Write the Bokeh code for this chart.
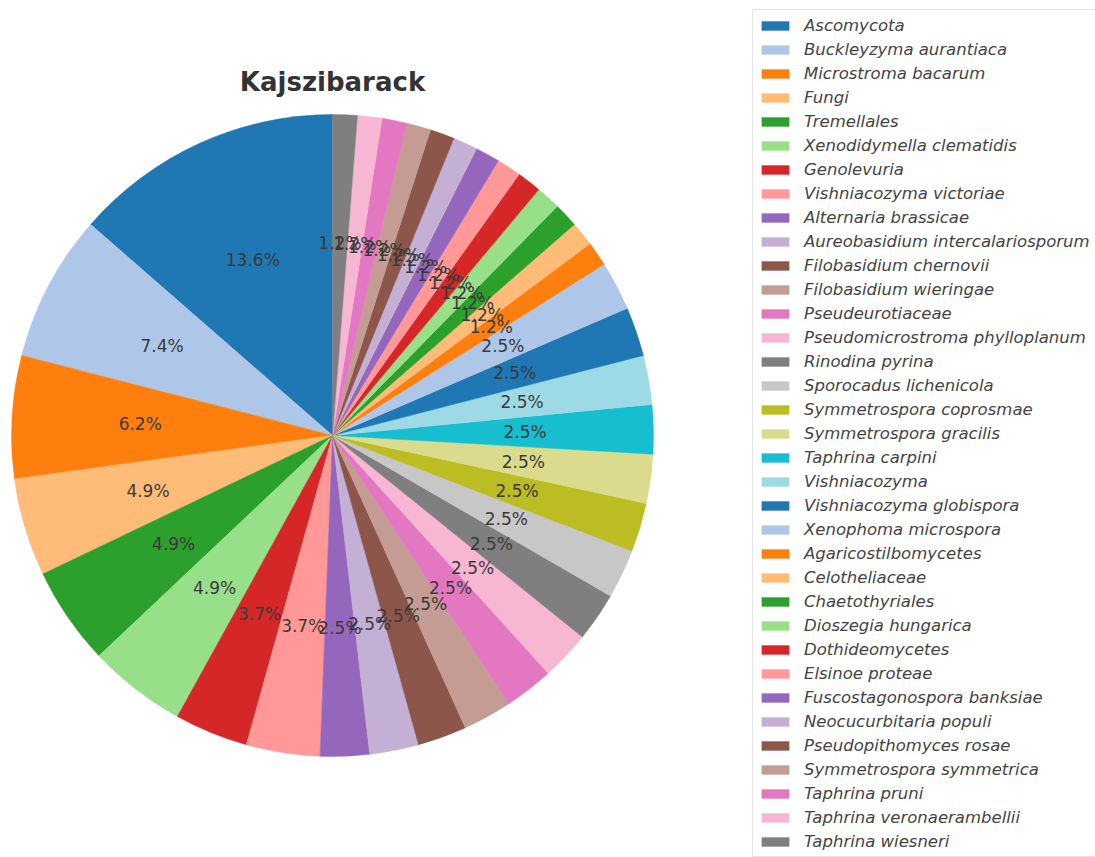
import numpy as np
from bokeh.plotting import figure
from bokeh.models import ColumnDataSource, Range1d, Legend, LegendItem
from bokeh.core.properties import value
from bokeh.embed import file_html
from bokeh.resources import INLINE

title_text = "Kajszibarack"
names = [
    "Ascomycota", "Buckleyzyma aurantiaca", "Microstroma bacarum", "Fungi",
    "Tremellales", "Xenodidymella clematidis", "Genolevuria", "Vishniacozyma victoriae",
    "Alternaria brassicae", "Aureobasidium intercalariosporum", "Filobasidium chernovii",
    "Filobasidium wieringae", "Pseudeurotiaceae", "Pseudomicrostroma phylloplanum",
    "Rinodina pyrina", "Sporocadus lichenicola", "Symmetrospora coprosmae",
    "Symmetrospora gracilis", "Taphrina carpini", "Vishniacozyma",
    "Vishniacozyma globispora", "Xenophoma microspora", "Agaricostilbomycetes",
    "Celotheliaceae", "Chaetothyriales", "Dioszegia hungarica", "Dothideomycetes",
    "Elsinoe proteae", "Fuscostagonospora banksiae", "Neocucurbitaria populi",
    "Pseudopithomyces rosae", "Symmetrospora symmetrica", "Taphrina pruni",
    "Taphrina veronaerambellii", "Taphrina wiesneri",
]
counts = [11, 6, 5, 4, 4, 4, 3, 3,
          2, 2, 2, 2, 2, 2, 2, 2, 2, 2, 2, 2, 2, 2,
          1, 1, 1, 1, 1, 1, 1, 1, 1, 1, 1, 1, 1]
tab20 = ["#1f77b4", "#aec7e8", "#ff7f0e", "#ffbb78", "#2ca02c", "#98df8a",
         "#d62728", "#ff9896", "#9467bd", "#c5b0d5", "#8c564b", "#c49c94",
         "#e377c2", "#f7b6d2", "#7f7f7f", "#c7c7c7", "#bcbd22", "#dbdb8d",
         "#17becf", "#9edae5"]

W, H = 1095, 857
CX, CY, R = 332, 422, 321

vals = np.array(counts, dtype=float)
frac = vals / vals.sum()
ang = frac * 2 * np.pi
start = np.pi / 2 + np.concatenate([[0], np.cumsum(ang)[:-1]])
end = np.pi / 2 + np.cumsum(ang)
mid = (start + end) / 2
colors = [tab20[i % 20] for i in range(len(names))]
labels = [f"{f*100:.1f}%" for f in frac]

src = ColumnDataSource(dict(
    name=names, start=start, end=end, color=colors,
    lx=CX + 0.6 * R * np.cos(mid), ly=CY + 0.6 * R * np.sin(mid), label=labels,
    cx=[CX] * len(names), cy=[CY] * len(names),
))

p = figure(width=W, height=H, output_backend="svg", toolbar_location=None,
           x_range=Range1d(0, W), y_range=Range1d(0, H), min_border=0,
           background_fill_color="white", border_fill_color="white")
p.axis.visible = False
p.grid.visible = False
p.outline_line_color = None

w = p.wedge(x="cx", y="cy", radius=R, start_angle="start", end_angle="end",
            fill_color="color", line_color="color", line_width=0.5, source=src)

p.text(x="lx", y="ly", text="label", source=src, text_align="center",
       text_baseline="middle", text_font=value("DejaVu Sans"),
       text_font_size="17px", text_color="#3a3a3a")

p.text(x=[CX], y=[776], text=[title_text], text_align="center",
       text_baseline="alphabetic", text_font=value("DejaVu Sans"),
       text_font_size="26px", text_font_style="bold", text_color="#333333")

legend = Legend(items=[LegendItem(label=n, renderers=[w], index=i)
                       for i, n in enumerate(names)],
                location=(752, 0), margin=0, padding=5,
                spacing=4, label_height=20, glyph_height=11, glyph_width=34,
                label_standoff=12, label_text_font="DejaVu Sans",
                label_text_font_size="16.5px", label_text_font_style="italic",
                label_text_color="#444444", border_line_color="#cccccc",
                border_line_width=1, background_fill_color="white",
                background_fill_alpha=0.9)
p.add_layout(legend)

open("out.html", "w").write(file_html(p, INLINE))
